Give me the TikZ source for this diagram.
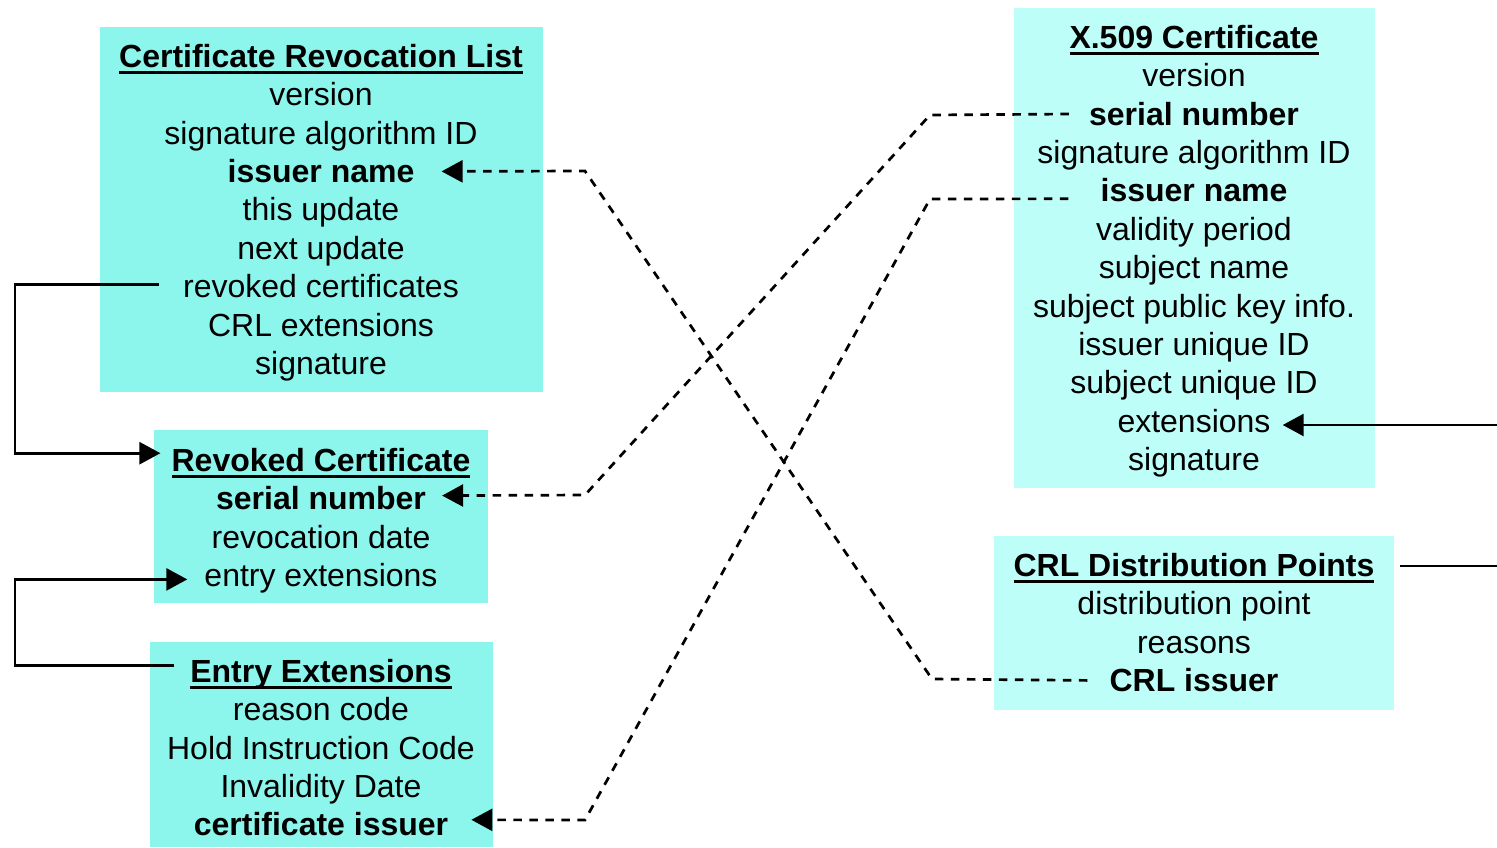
\documentclass[tikz,border=0pt]{standalone}
\usepackage{fontspec}
\setmainfont{Liberation Sans}
\usetikzlibrary{arrows.meta}

\definecolor{crlcyan}{HTML}{8CF5EC}
\definecolor{certcyan}{HTML}{BDFEF9}

% underlined heading with a heavy rule
\newsavebox\ulbox
\newcommand\titleul[1]{\sbox\ulbox{#1}\usebox\ulbox\llap{\rule[-7pt]{\wd\ulbox}{3.2pt}}}

\begin{document}
\begin{tikzpicture}[x=1pt,y=-1pt,
  crlpanel/.style={fill=crlcyan,draw=none,inner sep=0pt},
  certpanel/.style={fill=certcyan,draw=none,inner sep=0pt},
  field/.style={anchor=base,inner sep=0pt,text height=24pt,text depth=4pt,
    font=\fontsize{32}{38.4}\selectfont},
  heading/.style={field,font=\fontsize{32}{38.4}\selectfont\bfseries},
  key/.style={field,font=\fontsize{32}{38.4}\selectfont\bfseries},
  link/.style={line width=2.7pt,black},
  xref/.style={line width=2.7pt,black,dash pattern=on 8.5pt off 7.5pt},
  tip/.style={-{Triangle[length=21pt,width=22pt]}}]

\useasboundingbox (0,0) rectangle (1497,847);

% ---- panels ----
\node[crlpanel,minimum width=443pt,minimum height=365pt] (crlBox) at (321.5,209.5) {};
\node[crlpanel,minimum width=334pt,minimum height=173pt] (rcBox) at (321,516.5) {};
\node[crlpanel,minimum width=343pt,minimum height=205pt] (eeBox) at (321.5,744.5) {};
\node[certpanel,minimum width=361pt,minimum height=480pt] (xBox) at (1194.5,248) {};
\node[certpanel,minimum width=400pt,minimum height=174pt] (dpBox) at (1194,623) {};

\begin{scope}[yshift=-1.2pt]
% ---- Certificate Revocation List ----
\node[heading] (crlTitle) at (321,66) {\titleul{Certificate Revocation List}};
\node[field] (crlVer) at (321,104.4) {version};
\node[field] (crlAlg) at (321,142.8) {signature algorithm ID};
\node[key] (crlIssuer) at (321,181.2) {issuer name};
\node[field] (crlThis) at (321,219.6) {this update};
\node[field] (crlNext) at (321,258) {next update};
\node[field] (crlRev) at (321,296.4) {revoked certificates};
\node[field] (crlExt) at (321,334.8) {CRL extensions};
\node[field] (crlSig) at (321,373.2) {signature};

% ---- Revoked Certificate ----
\node[heading] (rcTitle) at (321,470) {\titleul{Revoked Certificate}};
\node[key] (rcSerial) at (321,508.4) {serial number};
\node[field] (rcDate) at (321,546.8) {revocation date};
\node[field] (rcExt) at (321,585.2) {entry extensions};

% ---- Entry Extensions ----
\node[heading] (eeTitle) at (321,681) {\titleul{Entry Extensions}};
\node[field] (eeReason) at (321,719.4) {reason code};
\node[field] (eeHold) at (321,757.8) {Hold Instruction Code};
\node[field] (eeInv) at (321,796.2) {Invalidity Date};
\node[key] (eeIssuer) at (321,834.6) {certificate issuer};

% ---- X.509 Certificate ----
\node[heading] (xTitle) at (1194,47) {\titleul{X.509 Certificate}};
\node[field] (xVer) at (1194,85.4) {version};
\node[key] (xSerial) at (1194,123.8) {serial number};
\node[field] (xAlg) at (1194,162.2) {signature algorithm ID};
\node[key] (xIssuer) at (1194,200.6) {issuer name};
\node[field] (xVal) at (1194,239) {validity period};
\node[field] (xSubj) at (1194,277.4) {subject name};
\node[field] (xPub) at (1194,315.8) {subject public key info.};
\node[field] (xIUid) at (1194,354.2) {issuer unique ID};
\node[field] (xSUid) at (1194,392.6) {subject unique ID};
\node[field] (xExt) at (1194,431) {extensions};
\node[field] (xSig) at (1194,469.4) {signature};

% ---- CRL Distribution Points ----
\node[heading] (dpTitle) at (1194,575) {\titleul{CRL Distribution Points}};
\node[field] (dpPoint) at (1194,613.4) {distribution point};
\node[field] (dpReasons) at (1194,651.8) {reasons};
\node[key] (dpIssuer) at (1194,690.2) {CRL issuer};
\end{scope}

% ---- free ends and bends ----
\coordinate (extIn) at (1497,425);
\coordinate (dpOut) at (1497,566);
\coordinate (dpStart) at ([xshift=25pt]dpTitle.east);
\coordinate (extTip) at ([xshift=12pt]xExt.east);
\coordinate (serialBendR) at (930,115);
\coordinate (serialBendL) at (585,495);
\coordinate (issuerBendR) at (930,199);
\coordinate (issuerBendL) at (585,820);
\coordinate (crlIssBendR) at (932,679);
\coordinate (crlIssBendL) at (585,171);

% ---- solid connectors ----
\draw[link,tip] ([xshift=-24pt,yshift=3pt]crlRev.west) -- ++(-144,0)
  |- ([xshift=-11pt,yshift=8pt]rcTitle.west);
\draw[link,tip] ([xshift=-16pt,yshift=7pt]eeTitle.west) -- ++(-159,0)
  |- ([xshift=-17pt,yshift=-3pt]rcExt.west);
\draw[link,tip] (extIn) -- (extTip |- extIn);
\draw[link] (dpStart |- dpOut) -- (dpOut);

% ---- dashed cross references ----
\draw[xref,tip] ([xshift=-20pt,yshift=1pt]xSerial.west) -- (serialBendR) -- (serialBendL)
  -- ([xshift=16pt,yshift=4pt]rcSerial.east);
\draw[xref,tip] ([xshift=-32pt,yshift=-7pt]xIssuer.west) -- (issuerBendR) -- (issuerBendL)
  -- ([xshift=23pt,yshift=6pt]eeIssuer.east);
\draw[xref,tip] ([xshift=-22pt,yshift=1pt]dpIssuer.west) -- (crlIssBendR) -- (crlIssBendL)
  -- ([xshift=27pt,yshift=1pt]crlIssuer.east);

\end{tikzpicture}
\end{document}
